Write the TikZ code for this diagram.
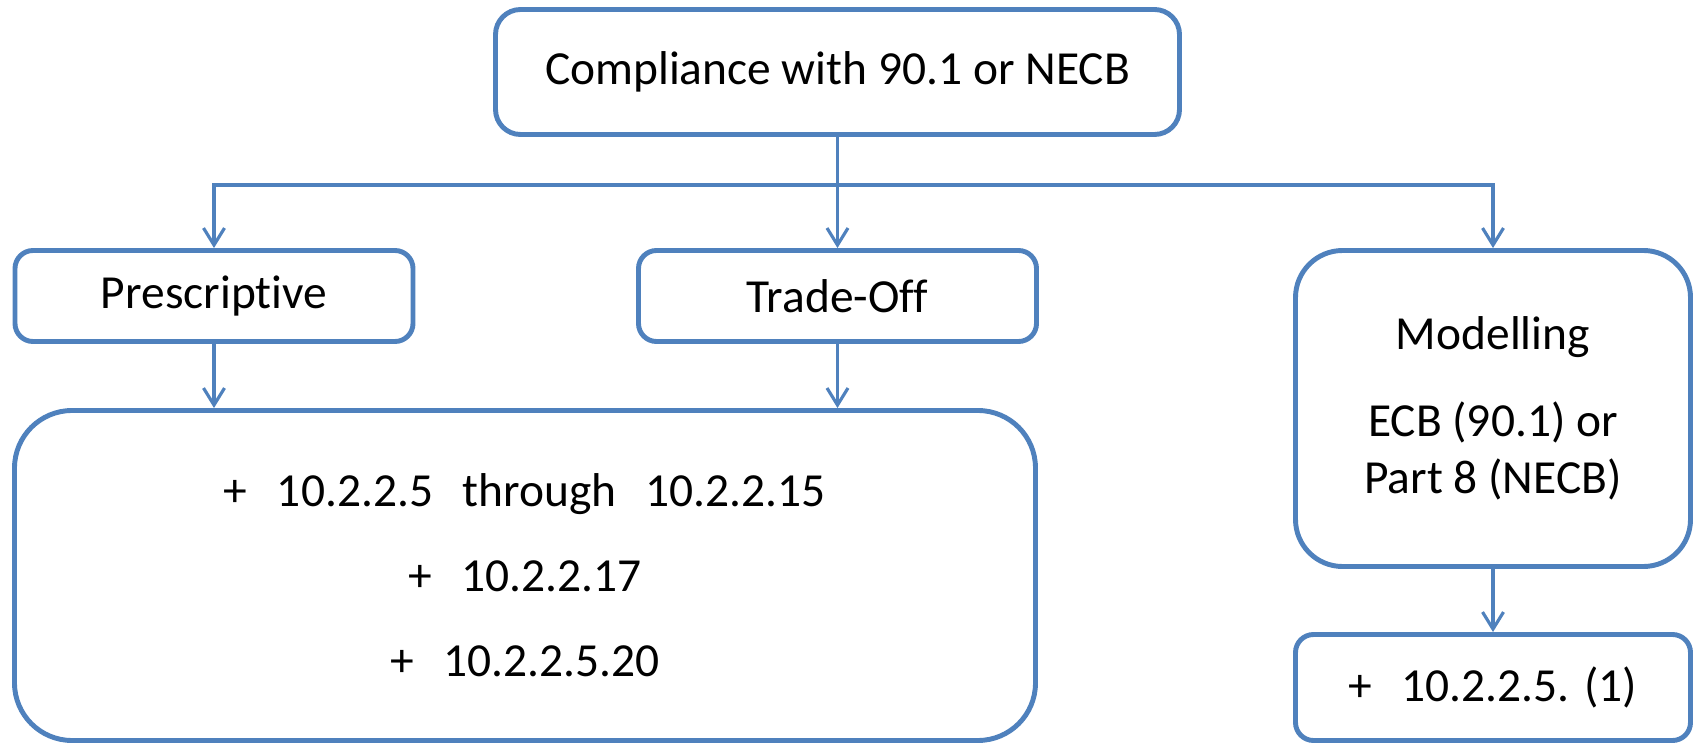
\documentclass[tikz,border=0pt]{standalone}
\usepackage{fontspec}
\setmainfont{Carlito}[Ligatures={NoCommon, NoRare}]
\usepackage{tikz}
\usetikzlibrary{arrows.meta, positioning}
\usepackage{xcolor}
\definecolor{boxblue}{RGB}{79,129,189}
\newcommand{\plusgap}{\hspace{0.62em}}
\tikzset{
  pathbox/.style ={draw=boxblue, line width=2.8pt, fill=white,
                   inner sep=0pt, align=center,
                   font=\fontsize{27}{32.4}\selectfont},
  topbox/.style  ={pathbox, rounded corners=0.5cm,
                   minimum width=13.68cm, minimum height=2.5cm},
  smallbox/.style={pathbox, rounded corners=0.36cm,
                   minimum width=7.96cm, minimum height=1.82cm},
  bigbox/.style  ={pathbox, rounded corners=1.15cm},
  flow/.style    ={-{Straight Barb[length=3.4mm, width=4.2mm]},
                   line width=1.8pt, draw=boxblue},
  bus/.style     ={line width=1.8pt, draw=boxblue},
}
\begin{document}
\begin{tikzpicture}
  \useasboundingbox (0,0) rectangle (33.88,-14.9);
  % ---- top level
  \node[topbox] (comp) at (16.75,-1.44) {Compliance with 90.1 or NECB};
  \coordinate (split) at (16.75,-3.7);
  % ---- the three paths
  \node[smallbox] (presc) at (4.28,-5.92)  {Prescriptive};
  \node[smallbox] (trade) at (16.75,-5.92) {Trade-Off};
  \node[bigbox, minimum width=7.9cm, minimum height=6.32cm,
        rounded corners=0.94cm] (model) at (29.86,-8.17)
    {Modelling\\[0.6cm] ECB (90.1) or\\ Part 8 (NECB)};
  % ---- what each path adds
  \node[bigbox, minimum width=20.42cm, minimum height=6.6cm] (extra)
    at (10.5,-11.51)
    {+\plusgap 10.2.2.5\plusgap through\plusgap 10.2.2.15\\[0.56cm]
     +\plusgap 10.2.2.17\\[0.56cm]
     +\plusgap 10.2.2.5.20};
  \node[smallbox, minimum width=7.9cm, minimum height=2.12cm] (mextra)
    at (29.86,-13.75) {+\plusgap 10.2.2.5. (1)};
  % ---- connectors
  \draw[bus]  (comp.south) -- (split);
  \draw[flow] (split) -| (presc.north);
  \draw[flow] (split) -- (trade.north);
  \draw[flow] (split) -| (model.north);
  \draw[flow] (presc.south) -- (presc.south |- extra.north);
  \draw[flow] (trade.south) -- (trade.south |- extra.north);
  \draw[flow] (model.south) -- (mextra.north);
\end{tikzpicture}
\end{document}
